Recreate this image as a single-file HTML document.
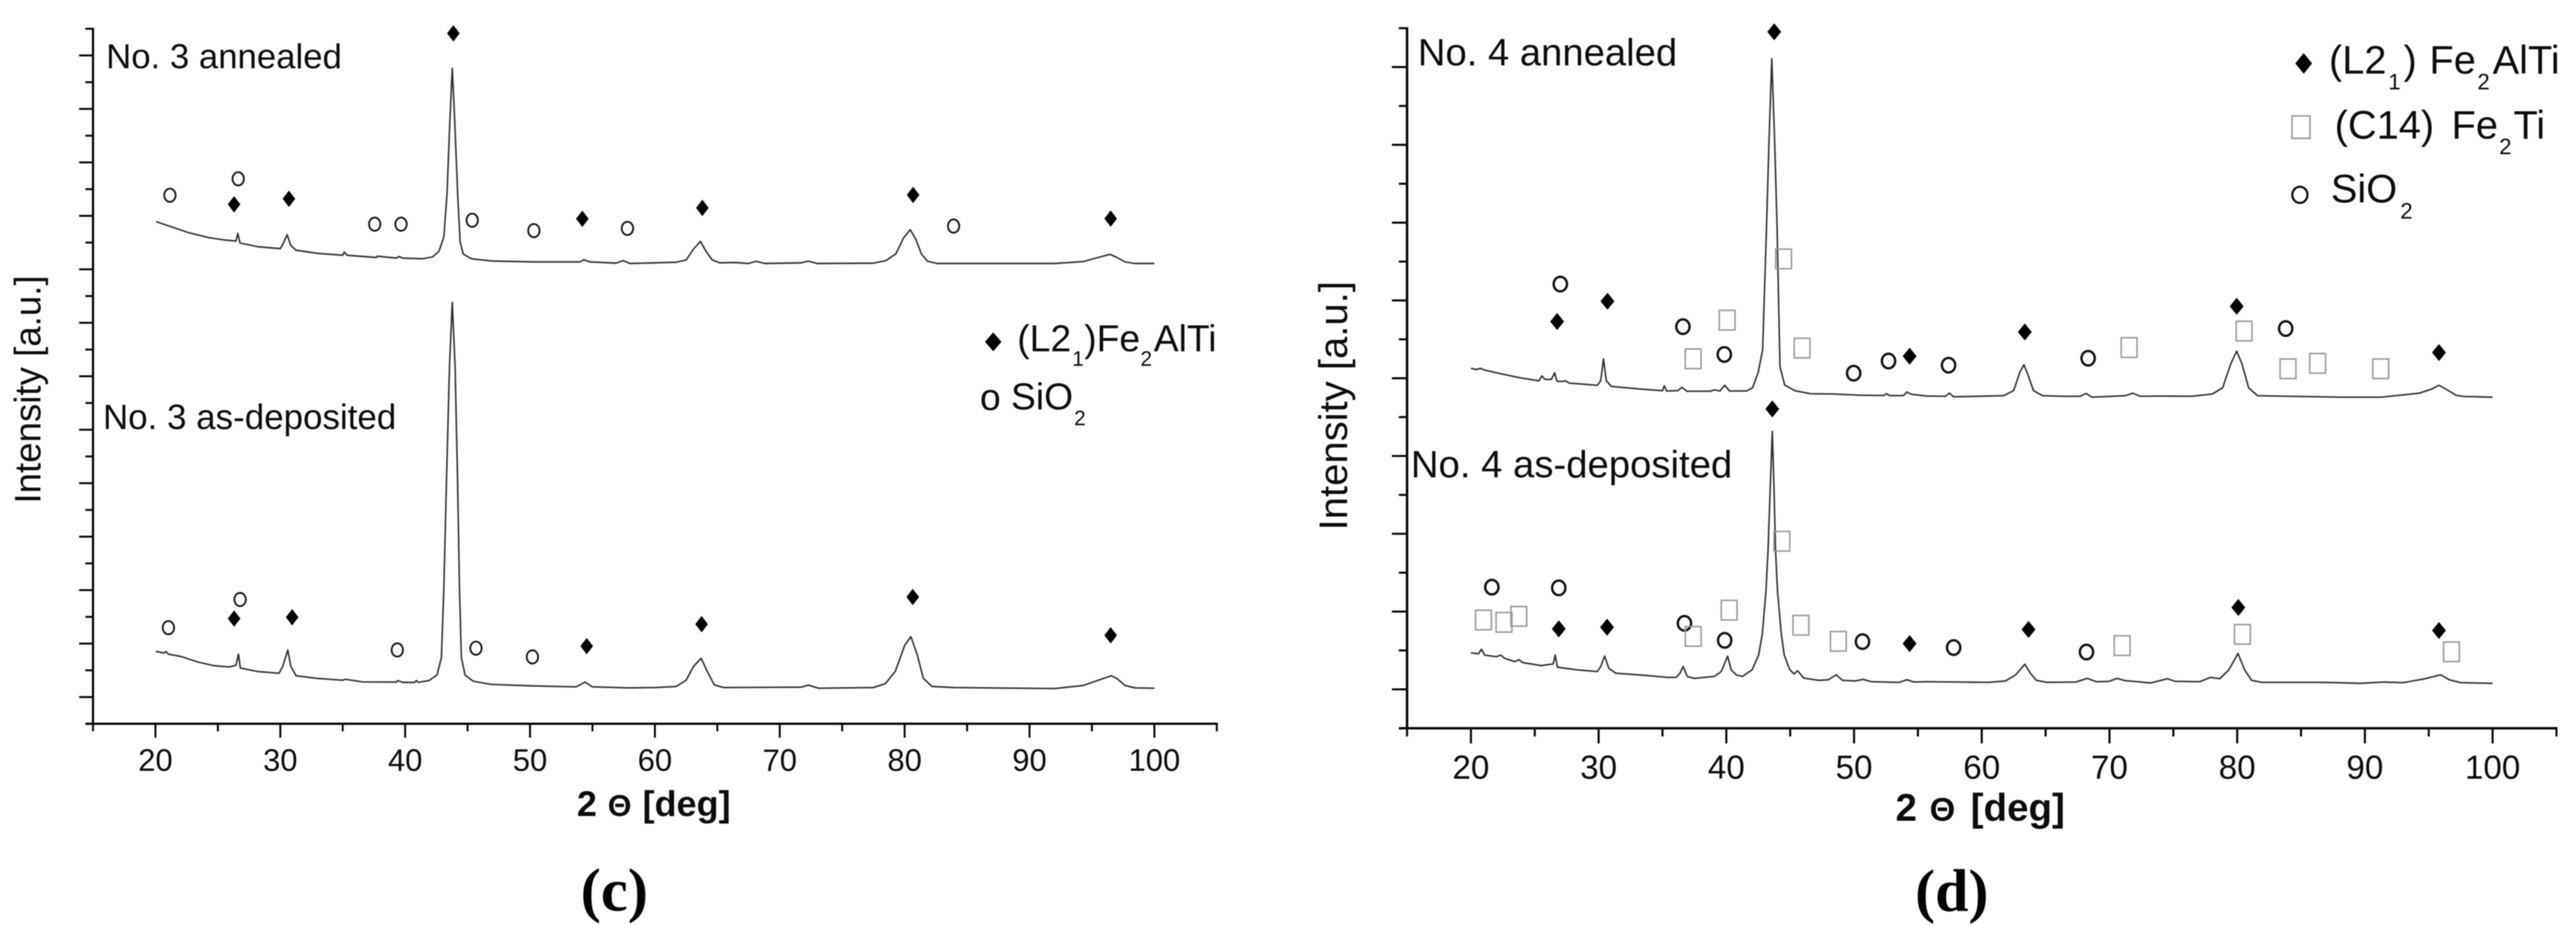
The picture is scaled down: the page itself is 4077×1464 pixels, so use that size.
<!DOCTYPE html>
<html lang="en">
<head>
<meta charset="utf-8">
<title>XRD patterns of samples No. 3 and No. 4</title>
<style>
  html, body { margin: 0; padding: 0; background: #fff; }
  svg { display: block; filter: blur(0.8px); }
  text { font-family: "Liberation Sans", Arial, sans-serif; fill: #0c0c0c; }
  .serif { font-family: "Liberation Serif", "Times New Roman", serif; font-weight: bold; fill: #000; }
</style>
</head>
<body>
<svg id="figure" xmlns="http://www.w3.org/2000/svg" width="4077" height="1464" viewBox="0 0 4077 1464">
  <rect x="0" y="0" width="4077" height="1464" fill="#ffffff"/>

  <g id="panel-c"></g>
  <g id="panel-d"></g>

  <!-- panel c text -->
  <text transform="translate(64 797) rotate(-90)" font-size="58">Intensity [a.u.]</text>
  <text font-size="57" font-weight="bold" y="1291.5"><tspan x="913">2</tspan><tspan x="962" font-size="48">Θ</tspan><tspan x="1017">[deg]</tspan></text>
  <text class="serif" font-size="96" x="919" y="1441">(c)</text>
  <text font-size="55" x="168" y="108">No. 3 annealed</text>
  <text font-size="55.3" x="163" y="679">No. 3 as-deposited</text>

  <polygon points="1572,526 1585,541 1572,556 1559,541" fill="#000"/>
  <text font-size="59"><tspan x="1610" y="556">(L2</tspan><tspan x="1697" y="579" font-size="33">1</tspan><tspan x="1716" y="556">)Fe</tspan><tspan x="1805" y="579" font-size="33">2</tspan><tspan x="1826" y="556">AlTi</tspan></text>
  <text font-size="59"><tspan x="1551" y="649">o</tspan><tspan x="1600" y="648">SiO</tspan><tspan x="1700" y="673" font-size="33">2</tspan></text>

  <!-- panel d text -->
  <text transform="translate(2132 839.5) rotate(-90)" font-size="63.4">Intensity [a.u.]</text>
  <text font-size="61" font-weight="bold" y="1299"><tspan x="3000">2</tspan><tspan x="3054" font-size="52">Θ</tspan><tspan x="3119">[deg]</tspan></text>
  <text class="serif" font-size="95" x="3031" y="1442">(d)</text>
  <text font-size="60.5" x="2244" y="103.6">No. 4 annealed</text>
  <text font-size="60.6" x="2233" y="755.4">No. 4 as-deposited</text>

  <polygon points="3646,84 3659.3,100.4 3646,116.7 3632.7,100.4" fill="#000"/>
  <text font-size="63"><tspan x="3686" y="116.7">(L2</tspan><tspan x="3780" y="141.7" font-size="35">1</tspan><tspan x="3804" y="116.7">)</tspan><tspan x="3845" y="116.7">Fe</tspan><tspan x="3921" y="141.7" font-size="35">2</tspan><tspan x="3945" y="116.7">AlTi</tspan></text>
  <rect x="3627.5" y="183.5" width="28.5" height="35.5" fill="none" stroke="#999" stroke-width="2.5"/>
  <text font-size="63"><tspan x="3695" y="219.3">(C14)</tspan><tspan x="3880" y="219.3">Fe</tspan><tspan x="3955.5" y="244" font-size="35">2</tspan><tspan x="3978" y="219.3">Ti</tspan></text>
  <ellipse cx="3640" cy="308.4" rx="12" ry="12.8" fill="none" stroke="#0c0c0c" stroke-width="3.4"/>
  <text font-size="63"><tspan x="3689" y="320.7">SiO</tspan><tspan x="3799" y="346" font-size="35">2</tspan></text>
</svg>

<script>
// ---------- axis tick labels ----------
const xTickLabels = [20, 30, 40, 50, 60, 70, 80, 90, 100];
const xMinorTicks = [15, 25, 35, 45, 55, 65, 75, 85, 95, 105];

// ---------- panel (c) series: 2-theta [deg] and intensity [a.u.] ----------
const cAnnealedTheta = [20.06,21.1,22.7,24.3,25.6,26.45,26.6,26.77,28.2,30.0,30.2,30.55,30.84,31.26,33.0,35.0,35.13,35.35,37.7,37.76,39.3,39.5,39.8,41.4,42.2,42.7,43.1,43.35,43.58,43.77,43.97,44.2,44.4,44.65,45.3,46.9,50.1,52.7,54.0,54.3,54.8,56.9,57.45,58.0,60.0,61.7,62.5,63.1,63.65,64.1,64.6,65.2,66.45,67.5,68.1,68.8,71.7,72.3,73.0,77.5,78.5,79.3,79.9,80.45,80.9,81.35,81.84,82.6,92.0,94.3,95.5,96.45,97.0,97.65,98.45,100];
const cAnnealedIntensity = [794.6,787.7,777,769.3,765.5,764,776,761,755,752,759,774,757,749.5,744.5,741.5,746.7,741.5,738,740,737,739.5,737,736,739,747.5,770.5,839.5,954,1037.5,954,839.5,762.8,743.5,736,732.5,731,731,731,734.5,731,729,733,728.5,729.5,730.5,734,751.5,763.5,747.5,734,729.5,730,728.5,732,728.5,729.5,732.2,728.5,729,733,743.7,768.5,782,766.6,743.5,732,728.5,728.5,731.5,738,743,738,731,728.5,728.5];

const cDepositedTheta = [20.03,20.7,20.84,21.03,22.06,23.35,24.65,25.9,26.45,26.65,26.8,28.2,29.9,30.2,30.6,30.84,31.26,33,35,35.2,36.6,39.3,39.4,39.8,40.75,40.9,41.05,41.9,42.55,42.9,43.1,43.3,43.55,43.77,44,44.2,44.35,44.5,44.8,45.45,46.9,50.13,53.7,54.4,55,57.9,60,61.7,62.5,63.1,63.7,64.2,64.75,65.5,71.7,72.3,73.1,77.5,78.45,79.25,80,80.5,81,81.5,82.2,84,92,94.3,95.5,96.55,97,97.65,98.45,100];
const cDepositedIntensity = [114.6,111.9,114.6,110.2,106.4,98,92,89.9,92.6,110.2,88.2,82.7,79.9,91,116.8,91,76,71.7,68.9,70.5,66.2,66,68.4,65.5,65.5,68.4,65.5,68.4,77.2,104.7,214.9,380,565,667,565,380,214.9,104.7,77,67.3,62.3,60,58.4,66,58.4,56.8,57.3,59,68.9,91,103.6,82.7,61.7,57.3,57.9,61.2,56.2,57.3,63.4,82.7,124,137.8,110,71.7,59,57.3,55.7,60.6,68.9,76,71.7,60.6,56.8,56.2];

// panel (c) phase annotations
const cDiamondTheta = [43.86,26.3,30.69,54.19,63.8,80.68,96.5,26.3,30.95,54.54,63.74,80.65,96.5];
const cDiamondIntensity = [1092.7,822.1,830.9,799.2,816.5,837,799.5,166.5,168.6,122.9,157.6,200.6,140];
const cCircleTheta = [21.16,26.63,37.56,39.67,45.37,50.31,57.8,83.92,21.04,26.78,39.37,45.67,50.19];
const cCircleIntensity = [836.5,862.5,790.7,790.7,796.9,780.5,784,787.7,152.1,196.7,116.8,119.6,105.8];

// ---------- panel (d) series ----------
const dAnnealedTheta = [20,20.44,20.76,21.07,22.33,23.9,25.33,25.55,25.8,26.3,26.56,26.75,27.2,27.4,27.7,29.9,30.16,30.38,30.6,31,33.4,35,35.14,35.33,36.2,36.53,36.9,37.8,38.74,39.05,39.5,39.87,40.25,41.58,42.05,42.5,42.84,43.15,43.34,43.56,43.78,43.97,44.2,44.57,45.36,46.6,48.36,50.4,52.3,52.55,52.8,53.88,54.13,54.5,55.7,57.15,57.47,57.8,61.7,62.5,62.98,63.3,63.63,64.05,64.76,66.4,67.7,68.17,68.65,71.24,71.83,72.4,73.84,76.43,78.05,78.86,79.5,79.96,80.38,80.9,81.6,88.1,91.3,94.25,95.2,95.8,96.36,97.17,97.8,100];
const dAnnealedIntensity = [569.6,567.8,569.6,566.9,561.1,554.4,549.9,557.6,552.2,552.2,562.6,549,549,549.9,546.3,542.8,549.9,584.7,549.9,541,536.6,534.3,541.9,533.8,534.3,539.6,533.4,533.4,533.4,535.6,533.8,542.8,533.8,533.8,538.8,563.6,599,795.6,929.6,1059.7,929.6,795.6,572.6,543.2,534.3,529.4,529,527.2,526.7,529.4,526.4,526.7,532.1,528.5,525.8,525.4,530.3,524.6,526.3,534.3,563.3,575.4,558.8,534.3,526.3,525.4,525.4,529.8,524,526.3,530.3,525.4,525.8,525.4,528.9,538.8,576.7,596.8,576.7,538.8,526.3,524,524,530.3,536.6,542.8,536.6,526.7,525,524];

const dDepositedTheta = [20,20.6,20.82,21.07,22,22.33,22.65,23.44,23.75,24.07,25.5,26.44,26.6,26.78,28.33,29.9,30.16,30.47,30.8,31.33,33.4,35.4,36.06,36.37,36.62,36.94,37.5,39.05,39.6,39.87,40.1,40.38,40.8,41.26,42.02,42.53,42.82,43.1,43.27,43.44,43.6,43.73,43.85,44.01,44.3,44.53,44.97,45.3,45.58,46.06,47.25,48,48.6,49.1,50.1,50.7,51.36,53.56,54.13,54.66,55.7,60.55,61.85,62.66,63.37,63.8,64.28,65.1,67.36,68.26,68.98,69.95,70.6,71.24,72.2,73.2,74.55,75.13,77.08,77.9,78.63,79.35,80.06,80.58,81.13,81.94,86.5,89.7,91.5,93,94.6,95.94,96.6,97.5,100];
const dDepositedIntensity = [119.4,117.9,125.1,115.8,113.2,115.8,110.6,105.4,108.5,103.8,99.2,101.8,115.8,96.6,92.4,89.8,97.6,114.2,95,87.2,84.1,80.5,80.5,87.2,97.6,82,78.9,82,89.8,102.8,114.2,92.4,84.1,82,92.6,116,149.3,215.9,282.6,382.6,469.9,382.6,282.6,215.9,149.3,116,92.6,86,91,79.4,75.8,76.8,84.6,75.8,74.8,77.4,73.7,72.7,76.8,73.2,73.7,72.7,74.8,84.6,101.3,87.2,75.8,72.7,73.2,78.9,73.7,74.2,78.9,75.3,73.7,71.6,78.4,74.3,73.7,80.5,78.4,92.4,118.4,92.4,75.8,72.7,72.7,71.1,73.2,72.2,77.9,84.6,76.8,72.2,71.1];

// panel (d) phase annotations
const dDiamondTheta = [43.75,26.75,30.69,54.35,63.37,79.96,95.8,43.6,26.88,30.66,54.35,63.66,80.09,95.8];
const dDiamondIntensity = [1102.2,643.7,675.8,588.8,627.2,667.8,594.6,505.3,157.3,159.9,134,156.3,191.1,154.7];
const dCircleTheta = [27,36.6,39.84,49.97,52.7,57.4,68.33,83.8,21.64,26.88,36.72,39.87,50.66,57.8,68.2];
const dCircleIntensity = [703,635.6,591.6,562,581.2,574.6,585.6,632.6,223.3,222.2,166.1,139.1,137.1,127.7,120.6];
const dSquareTheta = [44.48,40.06,37.4,45.93,71.54,80.54,83.98,86.3,91.24,20.98,22.59,23.75,37.41,40.22,44.35,45.84,48.77,70.99,80.41,96.78];
const dSquareIntensity = [742.8,645.9,584.7,601.7,602.6,628.6,569,577.6,569,171.3,167.7,177.1,145.4,186.9,296,163,137.6,130.8,148.6,121];

// ---------- drawing ----------
const NS = 'http://www.w3.org/2000/svg';

function make(tag, attrs, parent) {
  const el = document.createElementNS(NS, tag);
  for (const k in attrs) el.setAttribute(k, attrs[k]);
  parent.appendChild(el);
  return el;
}

function makeScale(d0, d1, r0, r1) {
  return function (v) { return r0 + (v - d0) * (r1 - r0) / (d1 - d0); };
}

function drawAxes(root, o) {
  const frame = { stroke: '#000', 'stroke-width': o.axisWidth, fill: 'none' };

  const yAxis = make('line', Object.assign({ x1: o.x(15), x2: o.x(15), y1: o.top - 1.5, y2: o.bottom + 1.5 }, frame), root);
  
  

  const xAxis = make('line', Object.assign({ x1: o.x(15) - o.minorLen, x2: o.x(105) + 1.5, y1: o.bottom, y2: o.bottom }, frame), root);
  
  

  // left-axis ticks (no printed values: relative intensity)
  for (let i = 1; i <= o.yTickCount; i++) {
    const major = i % 2 === 1;
    const py = o.y(i * o.yMax / o.yTickCount);
    const t = make('line', { x1: o.x(15) - (major ? o.majorLen : o.minorLen), x2: o.x(15), y1: py, y2: py, stroke: '#000', 'stroke-width': o.tickWidth }, root);
    
    
  }

  xTickLabels.forEach(function (v) {
    const t = make('line', { x1: o.x(v), x2: o.x(v), y1: o.bottom, y2: o.bottom + o.majorLen, stroke: '#000', 'stroke-width': o.tickWidth }, root);
    
    
    const lab = make('text', { x: o.x(v), y: o.labelY, 'font-size': o.labelSize, 'text-anchor': 'middle' }, root);
    
    
    lab.textContent = String(v);
  });

  xMinorTicks.forEach(function (v) {
    const t = make('line', { x1: o.x(v), x2: o.x(v), y1: o.bottom, y2: o.bottom + o.minorLen, stroke: '#000', 'stroke-width': o.tickWidth }, root);
    
    
  });
}

function drawSeries(root, o, name, thetas, intensities) {
  const pts = thetas.map(function (t, i) {
    return o.x(t).toFixed(1) + ',' + o.y(intensities[i]).toFixed(1);
  }).join(' ');
  const line = make('polyline', { points: pts, fill: 'none', stroke: '#2e2e2e', 'stroke-width': 2.4, 'stroke-linejoin': 'round' }, root);
  
  
}

function drawDiamonds(root, o, thetas, intensities) {
  thetas.forEach(function (t, i) {
    const cx = o.x(t), cy = o.y(intensities[i]);
    const w = o.diamondW / 2, h = o.diamondH / 2;
    const m = make('polygon', { points: cx + ',' + (cy - h) + ' ' + (cx + w) + ',' + cy + ' ' + cx + ',' + (cy + h) + ' ' + (cx - w) + ',' + cy, fill: '#000' }, root);
    
    
  });
}

function drawCircles(root, o, thetas, intensities) {
  thetas.forEach(function (t, i) {
    const m = make('ellipse', { cx: o.x(t), cy: o.y(intensities[i]), rx: o.circleRx, ry: o.circleRy, fill: 'none', stroke: '#111', 'stroke-width': o.circleWidth }, root);
    
    
  });
}

function drawSquares(root, o, thetas, intensities) {
  thetas.forEach(function (t, i) {
    const m = make('rect', { x: o.x(t) - 12.5, y: o.y(intensities[i]) - 15.5, width: 25, height: 31, fill: 'none', stroke: '#999', 'stroke-width': 2.4 }, root);
    
    
  });
}

const panelC = {
  id: 'panel-c',
  x: makeScale(20, 100, 246, 1827),
  y: makeScale(0, 1100, 1145.5, 45.5),
  yMax: 1100, yTickCount: 26,
  top: 45.5, bottom: 1145.5,
  axisWidth: 3.4, tickWidth: 3, majorLen: 22, minorLen: 12,
  labelY: 1220, labelSize: 49,
  diamondW: 20, diamondH: 26,
  circleRx: 9, circleRy: 10.5, circleWidth: 2.8
};

const panelD = {
  id: 'panel-d',
  x: makeScale(20, 100, 2328, 3945),
  y: makeScale(0, 1108, 1152.6, 44.6),
  yMax: 1108, yTickCount: 18,
  top: 44.6, bottom: 1152.6,
  axisWidth: 3.8, tickWidth: 3.2, majorLen: 24, minorLen: 13,
  labelY: 1232.6, labelSize: 52.5,
  diamondW: 22, diamondH: 27,
  circleRx: 10.5, circleRy: 11.5, circleWidth: 3.8
};

const gc = document.getElementById('panel-c');
const gd = document.getElementById('panel-d');

drawAxes(gc, panelC);
drawSeries(gc, panelC, 'series-no3-annealed', cAnnealedTheta, cAnnealedIntensity);
drawSeries(gc, panelC, 'series-no3-as-deposited', cDepositedTheta, cDepositedIntensity);
drawDiamonds(gc, panelC, cDiamondTheta, cDiamondIntensity);
drawCircles(gc, panelC, cCircleTheta, cCircleIntensity);

drawAxes(gd, panelD);
drawSeries(gd, panelD, 'series-no4-annealed', dAnnealedTheta, dAnnealedIntensity);
drawSeries(gd, panelD, 'series-no4-as-deposited', dDepositedTheta, dDepositedIntensity);
drawDiamonds(gd, panelD, dDiamondTheta, dDiamondIntensity);
drawCircles(gd, panelD, dCircleTheta, dCircleIntensity);
drawSquares(gd, panelD, dSquareTheta, dSquareIntensity);
</script>
</body>
</html>
